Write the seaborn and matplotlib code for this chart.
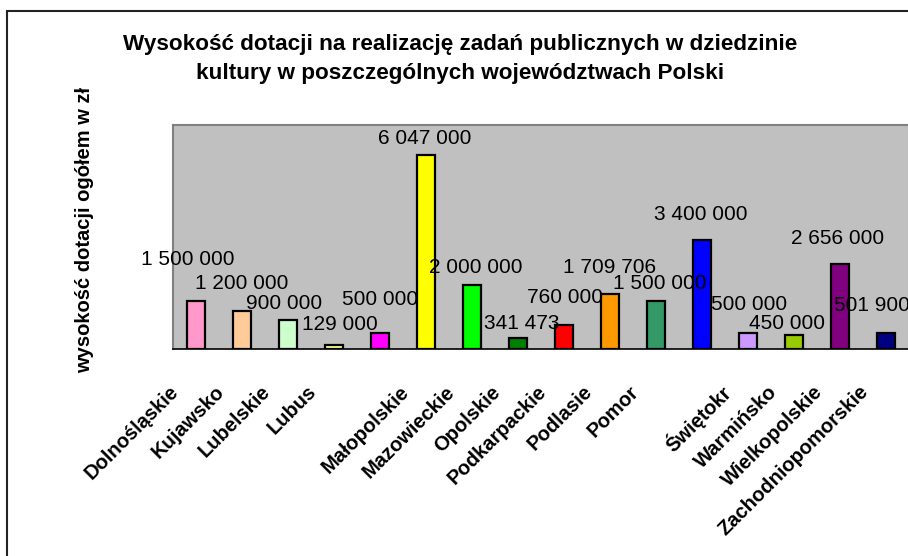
import numpy as np
import seaborn as sns
import matplotlib.pyplot as plt
from matplotlib.patches import Rectangle
from matplotlib.transforms import offset_copy

# data
regions = ["Dolnośląskie", "Kujawsko-Pomorskie", "Lubelskie", "Lubuskie",
           "Łódzkie", "Małopolskie", "Mazowieckie", "Opolskie",
           "Podkarpackie", "Podlaskie", "Pomorskie", "Śląskie",
           "Świętokrzyskie", "Warmińsko-Mazurskie", "Wielkopolskie",
           "Zachodniopomorskie"]
# labels as they show under the axis (some are cut off in the original)
tick_labels = ["Dolnośląskie", "Kujawsko", "Lubelskie", "Lubus", "",
               "Małopolskie", "Mazowieckie", "Opolskie", "Podkarpackie",
               "Podlasie", "Pomor", "", "Świętokr", "Warmińsko",
               "Wielkopolskie", "Zachodniopomorskie"]
grants = [1500000, 1200000, 900000, 129000, 500000, 6047000, 2000000, 341473,
          760000, 1709706, 1500000, 3400000, 500000, 450000, 2656000, 501900]

colors = ["#FF99CC", "#FFCC99", "#CCFFCC", "#FFFF99", "#FF00FF", "#FFFF00",
          "#00FF00", "#008000", "#FF0000", "#FF9900", "#339966", "#0000FF",
          "#CC99FF", "#99CC00", "#800080", "#000080"]
# label offsets (pixels) from the bar top, as placed in the original
label_offsets = [(-8, 41), (0, 27), (-4, 17), (6, 20), (0, 33), (-1, 17),
                 (4, 17), (4, 15), (1, 27), (0, 27), (4, 17), (-1, 26),
                 (1, 28), (-7, 11), (-2, 25), (-14, 27)]


def fmt(v):
    return f"{v:,}".replace(",", " ")


sns.set_style("white")
plt.rcParams['font.family'] = ['Liberation Sans', 'DejaVu Sans']
plt.rcParams['text.color'] = 'black'

W, H = 908, 556
fig = plt.figure(figsize=(W / 100, H / 100), dpi=100)
ax = fig.add_axes([172.7 / W, 1 - 349 / H, 736 / W, (349 - 124.7) / H])
ax.set_facecolor("#C0C0C0")

sns.barplot(x=regions, y=grants, hue=regions, palette=colors, width=0.39,
            saturation=1, edgecolor="black", linewidth=1.6, legend=False,
            ax=ax)
ax.set_xlim(-0.5, 15.5)
ax.set_ylim(0, 7000000)
ax.set_yticks([])
ax.set_ylabel("")

for i, (v, (dx, dy)) in enumerate(zip(grants, label_offsets)):
    ax.annotate(fmt(v), (i, v), xytext=(dx, dy), textcoords="offset pixels",
                ha="center", va="center", fontsize=15, color="black",
                annotation_clip=False)

# category names, rotated, ending a bit left of each tick
ax.set_xticks(range(len(regions)))
ax.set_xticklabels([])
ax.tick_params(axis="x", which="major", length=0)
lbl_tr = offset_copy(ax.get_xaxis_transform(), fig=fig, x=-20, y=-40,
                     units="dots")
for i, name in enumerate(tick_labels):
    ax.text(i, 0, name, transform=lbl_tr, rotation=45, ha="right",
            va="center", rotation_mode="anchor", fontsize=14.5,
            fontweight="bold", clip_on=False)

ax.set_xticks(np.arange(-0.5, 16, 1), minor=True)
ax.tick_params(axis="x", which="minor", length=6, width=1, color="black",
               direction="out")

for side in ["left", "top", "right"]:
    ax.spines[side].set_color("#808080")
    ax.spines[side].set_linewidth(1.5)
ax.spines["bottom"].set_color("black")
ax.spines["bottom"].set_linewidth(1.2)

fig.text(460 / W, 1 - 59 / H,
         "Wysokość dotacji na realizację zadań publicznych w dziedzinie\n"
         "kultury w poszczególnych województwach Polski",
         ha="center", va="center", fontsize=16.2, fontweight="bold",
         linespacing=1.45)
fig.text(85 / W, 1 - 230 / H, "wysokość dotacji ogółem w zł", rotation=90,
         ha="center", va="center", fontsize=14.5, fontweight="bold")

# outer chart frame, cut off at the right and bottom like the original
fig.add_artist(Rectangle((7 / W, -0.2), 1.5, 1.2 - 11 / H,
                         transform=fig.transFigure, fill=False,
                         edgecolor="#222222", linewidth=1.5, clip_on=False))

fig.savefig("out.png", dpi=100)
